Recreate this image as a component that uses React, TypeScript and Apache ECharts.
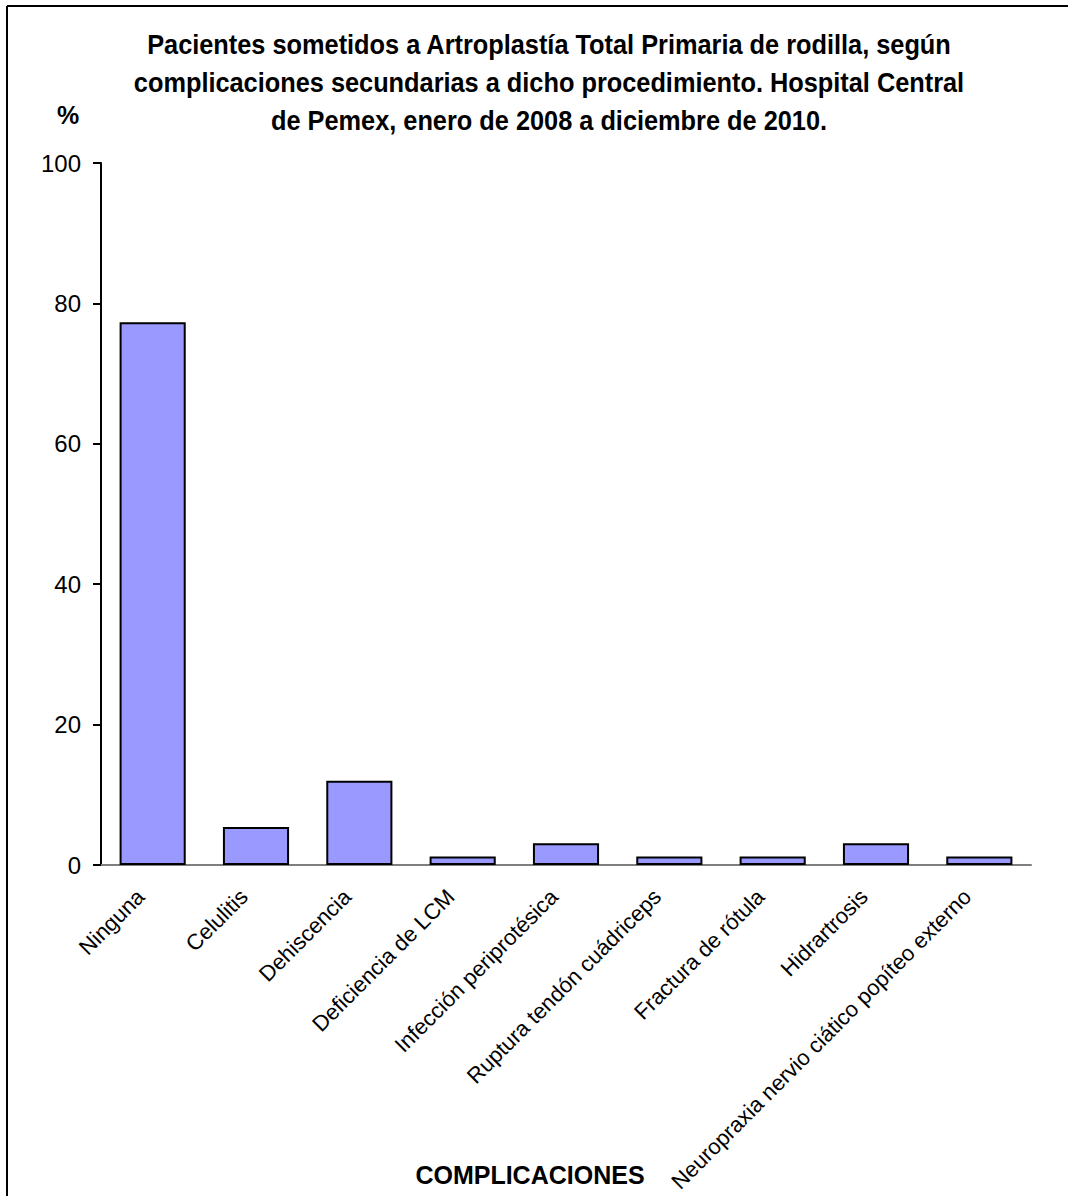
import React, { useEffect, useRef } from "react";
import * as echarts from "echarts";

const categories: string[] = [
  "Ninguna",
  "Celulitis",
  "Dehiscencia",
  "Deficiencia de LCM",
  "Infección periprotésica",
  "Ruptura tendón cuádriceps",
  "Fractura de rótula",
  "Hidrartrosis",
  "Neuropraxia nervio ciático popíteo externo",
];

const percentages: number[] = [77.3, 5.4, 12.0, 1.2, 3.1, 1.2, 1.2, 3.1, 1.2];

const titleLines: string[] = [
  "Pacientes sometidos a Artroplastía Total Primaria de rodilla, según",
  "complicaciones secundarias a dicho procedimiento. Hospital Central",
  "de Pemex, enero de 2008 a diciembre de 2010.",
];

const yTicks = { min: 0, max: 100, interval: 20 };

const plain = '"Liberation Sans", Arial, sans-serif';

// Narrow bold title: regular sans bold squeezed horizontally
const titleGraphics = titleLines.map((line, i) => ({
  type: "text",
  x: 549,
  y: 45 + i * 38,
  scaleX: 0.905,
  style: {
    text: line,
    fontFamily: plain,
    fontWeight: "bold",
    fontSize: 28,
    fill: "#000000",
    align: "center",
    verticalAlign: "middle",
  },
}));

export default function App() {
  const ref = useRef<HTMLDivElement>(null);

  useEffect(() => {
    if (!ref.current) return;
    const chart = echarts.init(ref.current, null, { renderer: "svg" });
    chart.setOption({
      animation: false,
      backgroundColor: "#ffffff",
      graphic: [
        {
          type: "line",
          shape: { x1: 7, y1: 6, x2: 1068, y2: 6 },
          style: { stroke: "#000000", lineWidth: 2 },
        },
        {
          type: "line",
          shape: { x1: 7, y1: 6, x2: 7, y2: 1196 },
          style: { stroke: "#000000", lineWidth: 2 },
        },
        ...titleGraphics,
        {
          type: "text",
          x: 68,
          y: 115,
          style: {
            text: "%",
            fontFamily: plain,
            fontWeight: "bold",
            fontSize: 25,
            fill: "#000000",
            align: "center",
            verticalAlign: "middle",
          },
        },
        {
          type: "text",
          x: 530,
          y: 1175,
          style: {
            text: "COMPLICACIONES",
            fontFamily: plain,
            fontWeight: "bold",
            fontSize: 25,
            fill: "#000000",
            align: "center",
            verticalAlign: "middle",
          },
        },
      ],
      grid: {
        left: 101,
        right: 37,
        top: 163,
        bottom: 331,
        containLabel: false,
        outerBoundsMode: "none",
      },
      xAxis: {
        type: "category",
        data: categories,
        axisLine: { lineStyle: { color: "#7f7f7f", width: 2 } },
        axisTick: { show: false },
        axisLabel: {
          rotate: 45,
          interval: 0,
          margin: 16,
          padding: [0, 17, 0, 0],
          fontFamily: plain,
          fontSize: 22,
          color: "#000000",
        },
      },
      yAxis: {
        type: "value",
        min: yTicks.min,
        max: yTicks.max,
        interval: yTicks.interval,
        splitLine: { show: false },
        axisLine: { show: true, lineStyle: { color: "#000000", width: 2 } },
        axisTick: { show: true, length: 8, lineStyle: { color: "#000000", width: 2 } },
        axisLabel: {
          margin: 20,
          fontFamily: plain,
          fontSize: 24,
          color: "#000000",
        },
      },
      series: [
        {
          type: "bar",
          data: percentages,
          barCategoryGap: "36%",
          itemStyle: { color: "#9999ff", borderColor: "#000000", borderWidth: 2 },
        },
      ],
    });
    return () => chart.dispose();
  }, []);

  return (
    <div
      ref={ref}
      style={{ position: "absolute", left: 0, top: 0, width: 1068, height: 1196 }}
    />
  );
}
